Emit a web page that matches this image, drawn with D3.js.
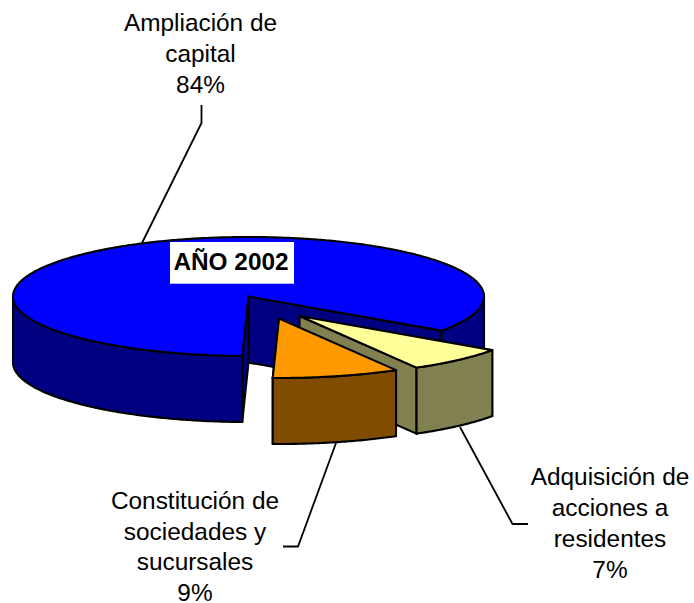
<!DOCTYPE html>
<html><head><meta charset="utf-8">
<script src="https://cdnjs.cloudflare.com/ajax/libs/d3/7.8.5/d3.min.js"></script>
<style>html,body{margin:0;padding:0;background:#fff}svg{display:block}text{font-family:"Liberation Sans",Arial,sans-serif;fill:#000}</style>
</head><body><svg id="c" width="694" height="603"></svg>
<script>
// Data (order: clockwise from the right-hand cut of the big slice)
const categories = ["Adquisición de acciones a residentes", "Constitución de sociedades y sucursales", "Ampliación de capital"];
const values = [7.0, 8.7, 84.3];
const percentLabels = ["7%", "9%", "84%"];
const labelLines = [["Adquisición de", "acciones a", "residentes"], ["Constitución de", "sociedades y", "sucursales"], ["Ampliación de", "capital"]];
const chartTitle = "AÑO 2002";

// Styling and layout
const topColors = ["#FFFF99", "#FF9900", "#0000FF"];
const wallColors = ["#808050", "#804D00", "#000080"];
const cx = 248.5, cy = 296.5, rx = 235.5, ry = 59.5, depth = 66;
const rotation = 35;
const explode = [[51, 19.5], [30.5, 22], [0, 0]];
const labelPos = [[610, 485], [195, 509], [200.5, 31]];
const lineGaps = [31, 30.7, 31];
const leaders = [
  [[460, 427], [512.5, 524], [528, 524]],
  [[336, 443], [298, 546.5], [283, 546.5]],
  [[142, 243], [201.5, 123], [201.5, 105]]
];

const svg = d3.select("#c");
const xs = d3.scaleLinear().domain([-1, 1]).range([cx - rx, cx + rx]);
const ys = d3.scaleLinear().domain([-1, 1]).range([cy - ry, cy + ry]);
const rad = Math.PI / 180;
const pie = d3.pie().sort(null).startAngle((90 + rotation) * rad).endAngle((450 + rotation) * rad);
const arcs = pie(values);

const pt = (a, r, off, dz) => [xs(r * Math.sin(a)) + off[0], ys(-r * Math.cos(a)) + off[1] + dz];
const sample = (a0, a1, off, dz) => {
  const n = Math.max(2, Math.ceil(Math.abs(a1 - a0) / 0.01));
  return d3.range(n + 1).map(i => pt(a0 + (a1 - a0) * i / n, 1, off, dz));
};
const lineGen = d3.line();
const poly = pts => lineGen(pts) + "Z";
const ink = { stroke: "#000", "stroke-width": 2.1, "stroke-linejoin": "miter", "stroke-miterlimit": 3 };
function shape(d, fill) {
  const p = svg.append("path").attr("d", d).attr("fill", fill);
  Object.entries(ink).forEach(([k, v]) => p.attr(k, v));
  return p;
}
function outerWalls(a0, a1, off, fill) {
  [[Math.PI / 2, Math.PI * 1.5], [Math.PI * 2.5, Math.PI * 3.5]].forEach(([s, e]) => {
    const b0 = Math.max(a0, s), b1 = Math.min(a1, e);
    if (b1 > b0) shape(poly(sample(b0, b1, off, 0).concat(sample(b1, b0, off, depth))), fill);
  });
}
function cutWall(a, off, fill) {
  const c = pt(a, 0, off, 0), o = pt(a, 1, off, 0);
  shape(poly([c, o, [o[0], o[1] + depth], [c[0], c[1] + depth]]), fill);
}
function topFace(d, fill, off) {
  const pts = sample(d.startAngle, d.endAngle, off, 0);
  shape(poly([pt(0, 0, off, 0), ...pts]), fill);
}

// Draw back to front: big slice, then small slices
[2, 0, 1].forEach(i => {
  const d = arcs[i], off = explode[i];
  if (i === 2) {
    cutWall(d.endAngle, off, wallColors[i]);
    cutWall(d.startAngle, off, wallColors[i]);
    outerWalls(d.startAngle, d.endAngle, off, wallColors[i]);
  } else {
    cutWall(d.endAngle, off, wallColors[i]);
    outerWalls(d.startAngle, d.endAngle, off, wallColors[i]);
  }
  topFace(d, topColors[i], off);
});

// Leader lines
leaders.forEach(l => svg.append("path").attr("d", lineGen(l)).attr("fill", "none").attr("stroke", "#000").attr("stroke-width", 1.8));

// Labels
categories.forEach((c, i) => {
  const t = svg.append("text").attr("text-anchor", "middle").attr("font-size", 24.4);
  labelLines[i].concat(percentLabels[i]).forEach((s, k) => {
    t.append("tspan").attr("x", labelPos[i][0]).attr("y", labelPos[i][1] + k * lineGaps[i]).text(s);
  });
});

// Title box
svg.append("rect").attr("x", 170).attr("y", 242).attr("width", 124).attr("height", 41.7).attr("fill", "#fff");
svg.append("text").attr("x", 231).attr("y", 270).attr("text-anchor", "middle").attr("font-size", 24.4).attr("font-weight", "bold").text(chartTitle);
</script></body></html>
